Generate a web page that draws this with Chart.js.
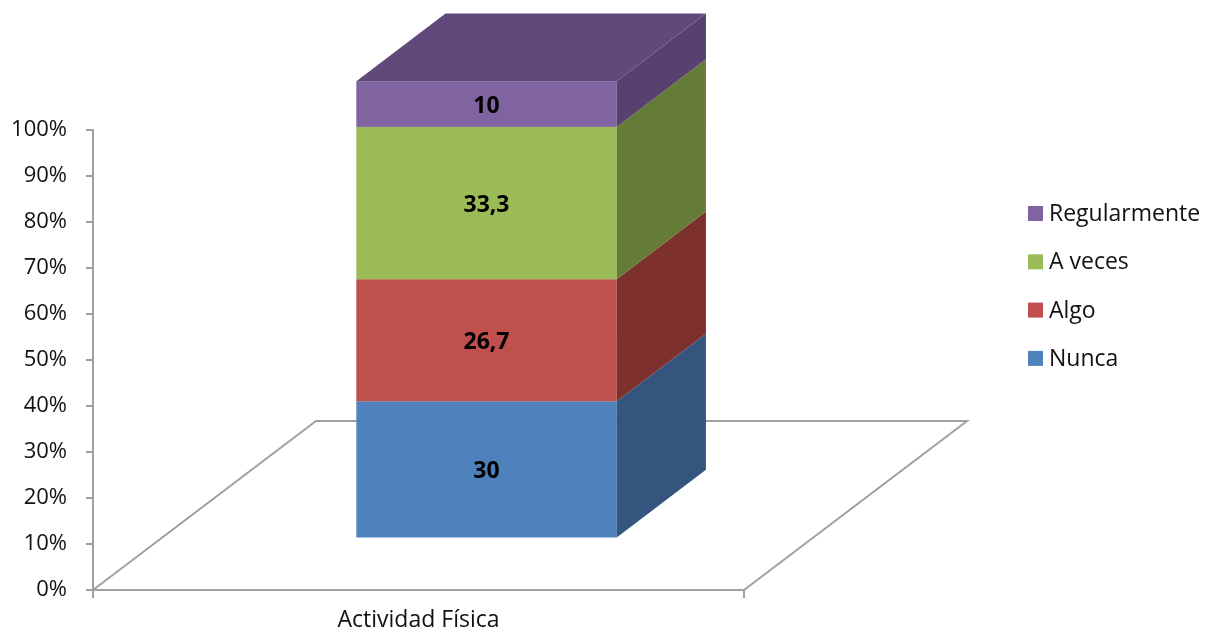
<!DOCTYPE html>
<html>
<head>
<meta charset="utf-8">
<script src="https://cdn.jsdelivr.net/npm/chart.js@4/dist/chart.umd.min.js"></script>
<style>
  html, body { margin: 0; padding: 0; background: #ffffff; }
  #wrap { width: 1216px; height: 633px; }
</style>
</head>
<body>
<div id="wrap"><canvas id="chart" width="1216" height="633"></canvas></div>
<script>
// Categories and series (percent of respondents)
const categories = ['Actividad Física'];
const nunca = [30];
const algo = [26.7];
const aVeces = [33.3];
const regularmente = [10];
const seriesNames = ['Nunca', 'Algo', 'A veces', 'Regularmente'];
const yTickValues = [0, 10, 20, 30, 40, 50, 60, 70, 80, 90, 100];

const FONT = '"Open Sans", "Noto Sans", "DejaVu Sans", sans-serif';

// Face colours: front, side, top
const faceColors = [
  { front: '#4F81BD', side: '#34557E', top: '#3F6795' },
  { front: '#C0504D', side: '#7D302E', top: '#98403D' },
  { front: '#9BBB59', side: '#647C38', top: '#7B9646' },
  { front: '#8064A2', side: '#56416F', top: '#604A7B' }
];

// Oblique projection of the floor depth and the bar's slot within it
const DEPTH = { dx: 223, dy: -169 };
const BAR_FRONT = 0.305;   // fraction of depth where bar front sits
const BAR_DEPTH = 0.40;    // fraction of depth the bar occupies
const FRONT_SCALE = 0.994; // slight perspective shrink of the bar front

function fmt(v) { return String(v).replace('.', ','); }

const threeD = {
  id: 'threeD',
  beforeDatasetsDraw() { return false; },
  afterDraw(chart) {
    const ctx = chart.ctx;
    const area = chart.chartArea;
    const yScale = chart.scales.y;
    const zero = yScale.getPixelForValue(0);

    // floor outline
    ctx.save();
    ctx.strokeStyle = '#A0A0A0';
    ctx.lineWidth = 2;
    ctx.beginPath();
    ctx.moveTo(area.left, area.bottom);
    ctx.lineTo(area.left + DEPTH.dx, area.bottom + DEPTH.dy);
    ctx.lineTo(area.right + DEPTH.dx, area.bottom + DEPTH.dy);
    ctx.lineTo(area.right, area.bottom);
    ctx.stroke();
    ctx.restore();

    const fx = DEPTH.dx * BAR_FRONT, fy = DEPTH.dy * BAR_FRONT;
    const bx = DEPTH.dx * BAR_DEPTH, by = DEPTH.dy * BAR_DEPTH;
    const toFront = (px) => zero - (zero - px) * FRONT_SCALE + fy;

    const nSets = chart.data.datasets.length;
    const labels = [];
    for (let d = 0; d < nSets; d++) {
      const meta = chart.getDatasetMeta(d);
      const col = faceColors[d];
      meta.data.forEach((el, i) => {
        const p = el.getProps(['x', 'y', 'base', 'width'], true);
        const xl = p.x - p.width / 2 + fx;
        const xr = p.x + p.width / 2 + fx;
        const yt = toFront(p.y);
        const yb = toFront(p.base);

        // front face
        ctx.fillStyle = col.front;
        ctx.fillRect(xl, yt, xr - xl, yb - yt);

        // right side face
        ctx.fillStyle = col.side;
        ctx.beginPath();
        ctx.moveTo(xr, yt);
        ctx.lineTo(xr + bx, yt + by);
        ctx.lineTo(xr + bx, yb + by);
        ctx.lineTo(xr, yb);
        ctx.closePath();
        ctx.fill();

        // top face on the last segment of the stack
        if (d === nSets - 1) {
          ctx.fillStyle = col.top;
          ctx.beginPath();
          ctx.moveTo(xl, yt);
          ctx.lineTo(xl + bx, yt + by);
          ctx.lineTo(xr + bx, yt + by);
          ctx.lineTo(xr, yt);
          ctx.closePath();
          ctx.fill();
        }
        const v = chart.data.datasets[d].data[i];
        labels.push({ x: (xl + xr) / 2, y: (yt + yb) / 2 + 2, text: fmt(v) });
      });
    }

    // value labels
    ctx.save();
    ctx.fillStyle = '#000000';
    ctx.font = 'bold 23px ' + FONT;
    ctx.textAlign = 'center';
    ctx.textBaseline = 'middle';
    labels.forEach(l => ctx.fillText(l.text, l.x, l.y));
    ctx.restore();

    // legend, top entry = last series
    ctx.save();
    ctx.font = '23px ' + FONT;
    ctx.textBaseline = 'middle';
    ctx.textAlign = 'left';
    const lx = 1028, ly0 = 213.5, step = 48.3, box = 15;
    for (let k = 0; k < nSets; k++) {
      const d = nSets - 1 - k;
      const ds = chart.data.datasets[d];
      const cy = ly0 + k * step;
      ctx.fillStyle = ds.backgroundColor;
      ctx.fillRect(lx, cy - box / 2, box, box);
      ctx.fillStyle = '#111111';
      ctx.fillText(ds.label, lx + 21, cy + 1);
    }
    ctx.restore();
  }
};

const seriesValues = [nunca, algo, aVeces, regularmente];

new Chart(document.getElementById('chart'), {
  type: 'bar',
  data: {
    labels: categories,
    datasets: seriesValues.map((vals, i) => ({
      label: seriesNames[i],
      data: vals,
      backgroundColor: faceColors[i].front,
      categoryPercentage: 1.0,
      barPercentage: 0.4
    }))
  },
  options: {
    responsive: false,
    animation: false,
    devicePixelRatio: 1,
    layout: { padding: { top: 130, right: 472, bottom: 0, left: 0 } },
    plugins: { legend: { display: false }, tooltip: { enabled: false } },
    scales: {
      x: {
        stacked: true,
        grid: { display: true, drawOnChartArea: false, tickLength: 8, color: '#A0A0A0', lineWidth: 2, offset: true },
        border: { display: true, color: '#A0A0A0', width: 2 },
        ticks: { color: '#111111', font: { family: FONT, size: 23 }, padding: 9, maxRotation: 0 },
        afterFit(scale) { scale.height = 43; }
      },
      y: {
        stacked: true,
        min: 0,
        max: 100,
        afterBuildTicks(scale) { scale.ticks = yTickValues.map(v => ({ value: v })); },
        grid: { display: true, drawOnChartArea: false, tickLength: 7, color: '#A0A0A0', lineWidth: 2 },
        border: { display: true, color: '#A0A0A0', width: 2 },
        ticks: {
          color: '#111111',
          font: { family: FONT, size: 22 },
          padding: 19,
          callback: v => v + '%'
        },
        afterFit(scale) { scale.width = 93; }
      }
    }
  },
  plugins: [threeD]
});
</script>
</body>
</html>
